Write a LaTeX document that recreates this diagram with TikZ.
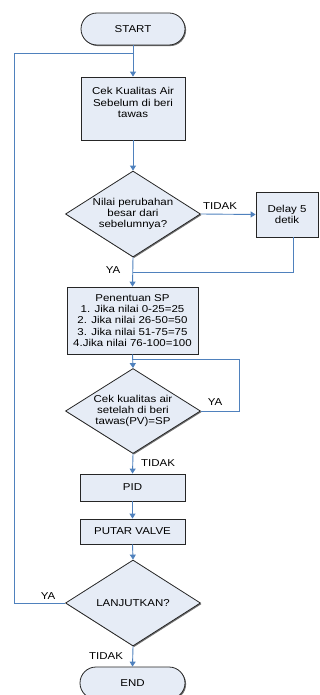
\documentclass[tikz,border=0pt]{standalone}
\usepackage{fontspec}
\setmainfont[FakeStretch=1.15]{Liberation Sans}
\usetikzlibrary{arrows.meta,shapes.geometric,shadows}
\definecolor{fillc}{HTML}{E6ECF6}
\definecolor{linec}{HTML}{4F81BD}
\begin{document}
\begin{tikzpicture}[x=1pt,y=-1pt,font=\fontsize{10}{11.3}\selectfont,
  shapebase/.style={draw=black!85, fill=fillc, line width=0.8pt, inner sep=0pt, align=center,
    drop shadow={shadow xshift=1.1pt, shadow yshift=-1.1pt, fill=black!55, opacity=1}},
  term/.style={shapebase, rectangle, rounded corners=16pt, minimum width=104pt, minimum height=32pt},
  proc/.style={shapebase, rectangle},
  dec/.style={shapebase, diamond, minimum width=135pt, minimum height=86pt, aspect=1.57},
  conn/.style={draw=linec, line width=0.9pt},
  arr/.style={conn, -{Triangle[width=6pt,length=5pt]}},
  lab/.style={inner sep=0pt},
  txt/.style={inner sep=0pt, align=center}]
\useasboundingbox (0,0) rectangle (320,695);

\node[term] (start) at (133,29) {START};
\node[proc, minimum width=104pt, minimum height=63pt] (cek) at (133,108.5) {};
\node[txt] (cektext) at (133,102.5) {Cek Kualitas Air\\Sebelum di beri\\tawas};
\node[dec] (d1) at (133,214) {Nilai perubahan\\besar dari\\sebelumnya?};
\node[proc, minimum width=62pt, minimum height=45pt] (delay) at (287,214.5) {Delay 5\\detik};
\node[proc, minimum width=131pt, minimum height=67pt] (sp) at (132.5,320.5) {Penentuan SP\\1. Jika nilai 0-25=25\\2. Jika nilai 26-50=50\\3. Jika nilai 51-75=75\\4.Jika nilai 76-100=100};
\node[dec, minimum height=85pt] (d2) at (133,411) {Cek kualitas air\\setelah di beri\\tawas(PV)=SP};
\node[proc, minimum width=105pt, minimum height=27pt] (pid) at (132.5,487.5) {PID};
\node[proc, minimum width=105pt, minimum height=25pt] (valve) at (132.5,531.5) {PUTAR VALVE};
\node[dec] (d3) at (133,603) {LANJUTKAN?};
\node[term, minimum width=105pt] (end) at (132.5,683) {END};

\coordinate (lt) at (133,53);
\coordinate (ll) at (14,53);
\coordinate (j1) at (133,272);
\coordinate (c2) at (239,359);
\coordinate (j2) at (133,359);

\draw[arr] (start.south) -- (cek.north);
\draw[conn] (d3.west) -| (ll) -- (lt);
\draw[arr] (cek.south) -- (d1.north);
\draw[arr] (d1.east) -- (delay.west);
\draw[conn] ([xshift=6pt]delay.south) |- (j1);
\draw[arr] (d1.south) -- (sp.north);
\draw[conn] (d2.east) -| (c2) -- (j2);
\draw[arr] (sp.south) -- (d2.north);
\draw[arr] (d2.south) -- (pid.north);
\draw[arr] (pid.south) -- (valve.north);
\draw[arr] (valve.south) -- (d3.north);
\draw[arr] (d3.south) -- (end.north);

\node[lab] (l1) at (220,206) {TIDAK};
\node[lab] (l2) at (113,270) {YA};
\node[lab] (l3) at (215,402) {YA};
\node[lab] (l4) at (158,463) {TIDAK};
\node[lab] (l5) at (48,596) {YA};
\node[lab] (l6) at (106,656) {TIDAK};
\end{tikzpicture}
\end{document}
